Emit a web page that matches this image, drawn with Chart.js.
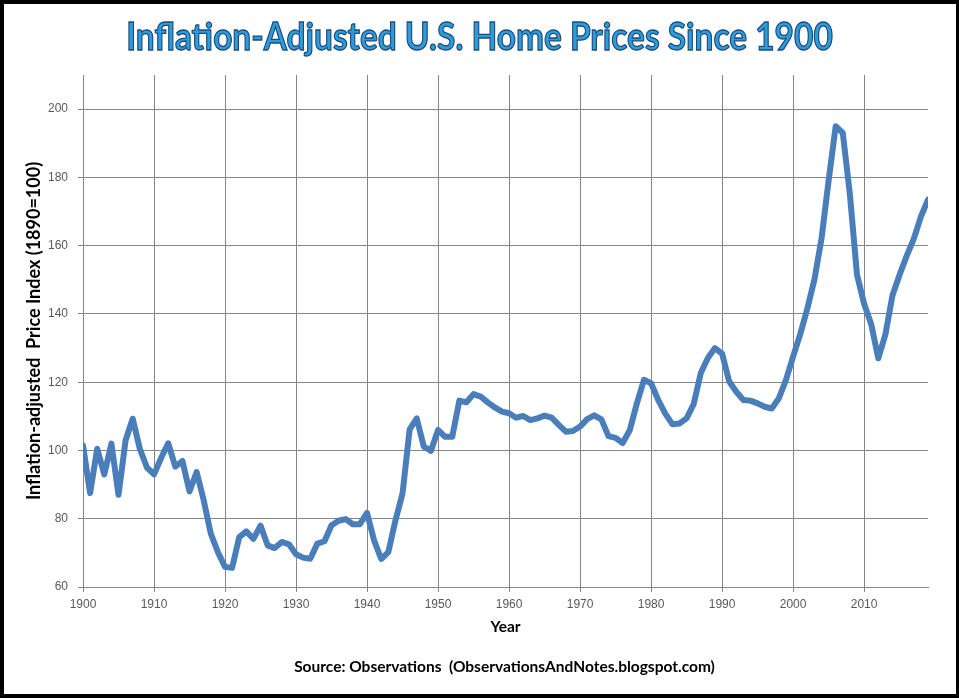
<!DOCTYPE html>
<html>
<head>
<meta charset="utf-8">
<title>Inflation-Adjusted U.S. Home Prices Since 1900</title>
<script src="https://cdn.jsdelivr.net/npm/chart.js@4.4.0/dist/chart.umd.min.js"></script>
<style>
    html, body { margin: 0; padding: 0; background: #fff; }
    #page { position: relative; width: 959px; height: 698px; overflow: hidden; background: #fff; }
    #chartBox { position: absolute; left: 0; top: 0; width: 959px; height: 698px; }
    #frame { position: absolute; left: 0; top: 0; width: 959px; height: 698px; box-sizing: border-box;
             border: 4px solid #000; border-right-width: 3px; pointer-events: none; }
    #title { position: absolute; left: 0; right: 0; top: 16px; text-align: center; white-space: nowrap;
             font-family: Lato, 'Open Sans', sans-serif; font-weight: bold; font-size: 38px; line-height: 38px;
             color: #2F9BD9; -webkit-text-stroke: 1.3px #1A4C7E; transform: scaleX(0.88); }
    #source { position: absolute; left: 50px; right: 0; top: 657px; text-align: center; white-space: nowrap;
              font-family: Lato, 'Open Sans', sans-serif; font-weight: bold; font-size: 15.5px; color: #000; }
</style>
</head>
<body>
<div id="page">
    <div id="chartBox"><canvas id="priceChart"></canvas></div>
    <div id="title">Inflation-Adjusted U.S. Home Prices Since 1900</div>
    <div id="source">Source: Observations&nbsp; (ObservationsAndNotes.blogspot.com)</div>
    <div id="frame"></div>
</div>
<script>
'use strict';

// years on the x axis
const years = [
    1900, 1901, 1902, 1903, 1904, 1905, 1906, 1907, 1908, 1909,
    1910, 1911, 1912, 1913, 1914, 1915, 1916, 1917, 1918, 1919,
    1920, 1921, 1922, 1923, 1924, 1925, 1926, 1927, 1928, 1929,
    1930, 1931, 1932, 1933, 1934, 1935, 1936, 1937, 1938, 1939,
    1940, 1941, 1942, 1943, 1944, 1945, 1946, 1947, 1948, 1949,
    1950, 1951, 1952, 1953, 1954, 1955, 1956, 1957, 1958, 1959,
    1960, 1961, 1962, 1963, 1964, 1965, 1966, 1967, 1968, 1969,
    1970, 1971, 1972, 1973, 1974, 1975, 1976, 1977, 1978, 1979,
    1980, 1981, 1982, 1983, 1984, 1985, 1986, 1987, 1988, 1989,
    1990, 1991, 1992, 1993, 1994, 1995, 1996, 1997, 1998, 1999,
    2000, 2001, 2002, 2003, 2004, 2005, 2006, 2007, 2008, 2009,
    2010, 2011, 2012, 2013, 2014, 2015, 2016, 2017, 2018, 2019
];

// inflation-adjusted price index (1890=100)
const priceIndex = [
    101.5, 87.5, 100.5, 93.0, 102.0, 87.0, 103.0, 109.3, 100.5, 95.0,
    93.0, 97.8, 102.1, 95.3, 96.9, 88.0, 93.7, 85.4, 75.6, 70.2,
    65.9, 65.6, 74.6, 76.3, 74.1, 78.0, 72.2, 71.4, 73.2, 72.5,
    69.6, 68.6, 68.3, 72.7, 73.4, 78.1, 79.4, 79.9, 78.4, 78.4,
    81.7, 73.6, 68.2, 70.2, 79.5, 87.4, 106.2, 109.4, 101.1, 99.9,
    106.0, 104.0, 104.0, 114.6, 114.1, 116.5, 115.8, 114.1, 112.6, 111.4,
    110.9, 109.6, 110.1, 108.9, 109.4, 110.2, 109.6, 107.5, 105.5, 105.7,
    107.0, 109.2, 110.3, 109.1, 104.2, 103.7, 102.2, 105.9, 113.8, 120.7,
    119.7, 114.8, 110.8, 107.7, 107.9, 109.4, 113.6, 122.7, 127.1, 130.0,
    128.4, 120.2, 117.2, 114.8, 114.6, 113.8, 112.8, 112.3, 115.3, 120.7,
    127.5, 134.0, 141.5, 150.0, 162.0, 179.0, 195.0, 193.0, 175.0, 151.5,
    143.0, 137.0, 127.0, 134.0, 145.5, 151.5, 157.0, 162.0, 168.5, 173.5
];

const xRange = [1900, 2019];
const yRange = [60, 210];
const xStep = 10;
const yStep = 20;

const gridColor = '#868686';
const tickColor = '#595959';

const points = years.map((yr, i) => ({ x: yr, y: priceIndex[i] }));

new Chart(document.getElementById('priceChart'), {
    type: 'line',
    data: {
        datasets: [{
            label: 'Price index',
            data: points,
            borderColor: '#4A7EBB',
            borderWidth: 6,
            borderJoinStyle: 'round',
            borderCapStyle: 'round',
            pointRadius: 0,
            tension: 0,
            fill: false
        }]
    },
    options: {
        responsive: true,
        maintainAspectRatio: false,
        animation: false,
        layout: { padding: { left: 4, right: 31, top: 75, bottom: 50 } },
        plugins: {
            legend: { display: false },
            tooltip: { enabled: false }
        },
        scales: {
            x: {
                type: 'linear',
                min: xRange[0],
                max: xRange[1],
                afterBuildTicks: axis => {
                    axis.ticks = axis.ticks.filter(t => t.value % xStep === 0);
                },
                afterFit: axis => { axis.height = 61; },
                ticks: {
                    stepSize: xStep,
                    padding: 5,
                    color: tickColor,
                    font: { family: 'Liberation Sans', size: 12 },
                    maxRotation: 0,
                    callback: v => String(v)
                },
                grid: { color: gridColor, lineWidth: 1, tickLength: 5 },
                border: { display: true, color: gridColor, width: 1 },
                title: {
                    display: true,
                    text: 'Year',
                    color: '#000',
                    font: { family: 'Lato', size: 15.5, weight: 'bold' },
                    padding: { top: 0, bottom: 12 }
                }
            },
            y: {
                min: yRange[0],
                max: yRange[1],
                afterBuildTicks: axis => {
                    axis.ticks = axis.ticks.filter(t => t.value % yStep === 0);
                },
                afterFit: axis => { axis.width = 79; },
                ticks: {
                    stepSize: yStep,
                    padding: 10,
                    color: tickColor,
                    font: { family: 'Liberation Sans', size: 12 }
                },
                grid: { color: gridColor, lineWidth: 1, tickLength: 5 },
                border: { display: true, color: gridColor, width: 1 },
                title: {
                    display: true,
                    text: 'Inflation-adjusted  Price Index (1890=100)',
                    color: '#000',
                    font: { family: 'Lato', size: 18, weight: 'bold' },
                    padding: { top: 19, bottom: 0 }
                }
            }
        }
    }
});
</script>
</body>
</html>
